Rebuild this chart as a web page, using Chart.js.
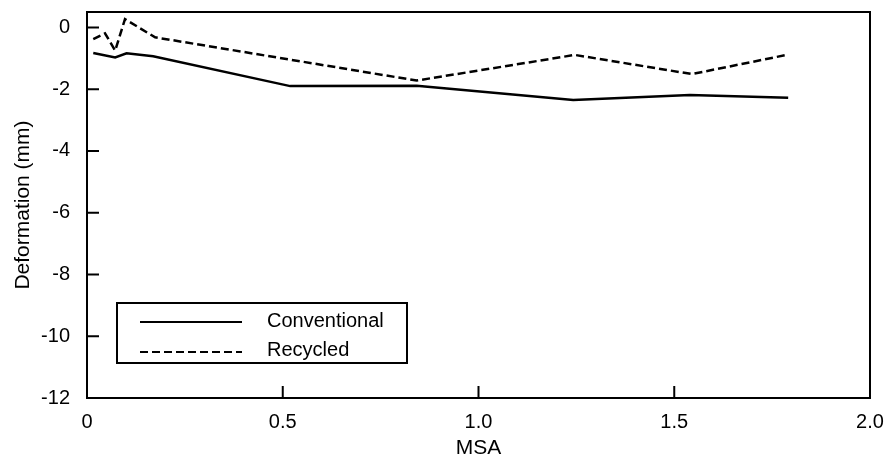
<!DOCTYPE html>
<html>
<head>
<meta charset="utf-8">
<script src="https://cdn.jsdelivr.net/npm/chart.js@4"></script>
<style>
  html, body { margin: 0; padding: 0; background: #fff; }
  canvas { display: block; }
</style>
</head>
<body>
<canvas id="chart" width="893" height="467"></canvas>
<script>
// values
const conventionalMsa = [0.016, 0.072, 0.101, 0.169, 0.519, 0.842, 1.242, 1.540, 1.791];
const conventionalDef = [-0.83, -0.97, -0.84, -0.93, -1.90, -1.89, -2.35, -2.19, -2.28];
const recycledMsa = [0.016, 0.046, 0.072, 0.097, 0.174, 0.842, 1.246, 1.545, 1.787];
const recycledDef = [-0.38, -0.19, -0.75, 0.27, -0.32, -1.72, -0.89, -1.51, -0.89];

const xTicks = [0, 0.5, 1.0, 1.5, 2.0];
const xTickLabels = ['0', '0.5', '1.0', '1.5', '2.0'];
const yTicks = [-12, -10, -8, -6, -4, -2, 0];
const yTickLabels = ['-12', '-10', '-8', '-6', '-4', '-2', '0'];

const toPoints = (xs, ys) => xs.map((x, i) => ({ x: x, y: ys[i] }));

const FONT = '"Liberation Sans", Arial, Helvetica, sans-serif';

// frame + inward tick marks, like the printed figure
const framePlugin = {
  id: 'frame',
  afterDraw(chart) {
    const { ctx, chartArea: { left, right, top, bottom } } = chart;
    const xs = chart.scales.x, ys = chart.scales.y;
    ctx.save();
    ctx.strokeStyle = '#000';
    ctx.lineWidth = 2;
    ctx.strokeRect(left, top, right - left, bottom - top);
    ctx.beginPath();
    yTicks.forEach(v => {
      if (v === ys.min) return;
      const y = ys.getPixelForValue(v);
      ctx.moveTo(left, y);
      ctx.lineTo(left + 12, y);
    });
    xTicks.forEach(v => {
      if (v === xs.min || v === xs.max) return;
      const x = xs.getPixelForValue(v);
      ctx.moveTo(x, bottom);
      ctx.lineTo(x, bottom - 12);
    });
    ctx.stroke();
    ctx.restore();
  }
};

// boxed legend in the lower left of the plot
const boxLegend = {
  id: 'boxLegend',
  afterDraw(chart) {
    const ctx = chart.ctx;
    const box = { x: 117, y: 303, w: 290, h: 60 };
    ctx.save();
    ctx.strokeStyle = '#000';
    ctx.lineWidth = 2;
    ctx.strokeRect(box.x, box.y, box.w, box.h);
    chart.data.datasets.forEach((ds, i) => {
      const y = box.y + 19 + i * 30;
      ctx.beginPath();
      ctx.lineWidth = 2;
      ctx.setLineDash(ds.borderDash || []);
      ctx.moveTo(box.x + 23, y);
      ctx.lineTo(box.x + 125, y);
      ctx.stroke();
      ctx.setLineDash([]);
      ctx.fillStyle = '#000';
      ctx.font = '20px ' + FONT;
      ctx.textAlign = 'left';
      ctx.textBaseline = 'alphabetic';
      ctx.fillText(ds.label, box.x + 150, y + 5 - i);
    });
    ctx.restore();
  }
};

const noScalePadding = (scale) => {
  scale.paddingTop = 0;
  scale.paddingBottom = 0;
  scale.paddingLeft = 0;
  scale.paddingRight = 0;
};

new Chart(document.getElementById('chart'), {
  type: 'line',
  data: {
    datasets: [
      {
        label: 'Conventional',
        data: toPoints(conventionalMsa, conventionalDef),
        borderColor: '#000',
        borderWidth: 2.5,
        pointRadius: 0,
        tension: 0,
        fill: false
      },
      {
        label: 'Recycled',
        data: toPoints(recycledMsa, recycledDef),
        borderColor: '#000',
        borderWidth: 2.5,
        borderDash: [8, 4],
        pointRadius: 0,
        tension: 0,
        fill: false
      }
    ]
  },
  options: {
    responsive: false,
    animation: false,
    layout: { padding: { top: 12, right: 23, left: 0, bottom: 0 } },
    plugins: {
      legend: { display: false },
      tooltip: { enabled: false }
    },
    scales: {
      x: {
        type: 'linear',
        min: 0,
        max: 2,
        grid: { display: false },
        border: { display: false },
        afterBuildTicks: (scale) => { scale.ticks = xTicks.map(v => ({ value: v })); },
        afterFit: (scale) => { scale.height = 69; noScalePadding(scale); },
        ticks: {
          padding: 4,
          color: '#000',
          font: { family: FONT, size: 20 },
          maxRotation: 0,
          autoSkip: false,
          callback: (v, i) => xTickLabels[i]
        },
        title: {
          display: true,
          text: 'MSA',
          color: '#000',
          font: { family: FONT, size: 21 },
          padding: { top: 0, bottom: 6 }
        }
      },
      y: {
        min: -12,
        max: 0.5,
        grid: { display: false },
        border: { display: false },
        afterBuildTicks: (scale) => { scale.ticks = yTicks.map(v => ({ value: v })); },
        afterFit: (scale) => { scale.width = 87; noScalePadding(scale); },
        ticks: {
          padding: 9,
          color: '#000',
          font: { family: FONT, size: 20 },
          autoSkip: false,
          callback: (v, i) => yTickLabels[i]
        },
        title: {
          display: true,
          text: 'Deformation (mm)',
          color: '#000',
          font: { family: FONT, size: 21 },
          padding: { top: 11, bottom: 0 }
        }
      }
    }
  },
  plugins: [framePlugin, boxLegend]
});
</script>
</body>
</html>
